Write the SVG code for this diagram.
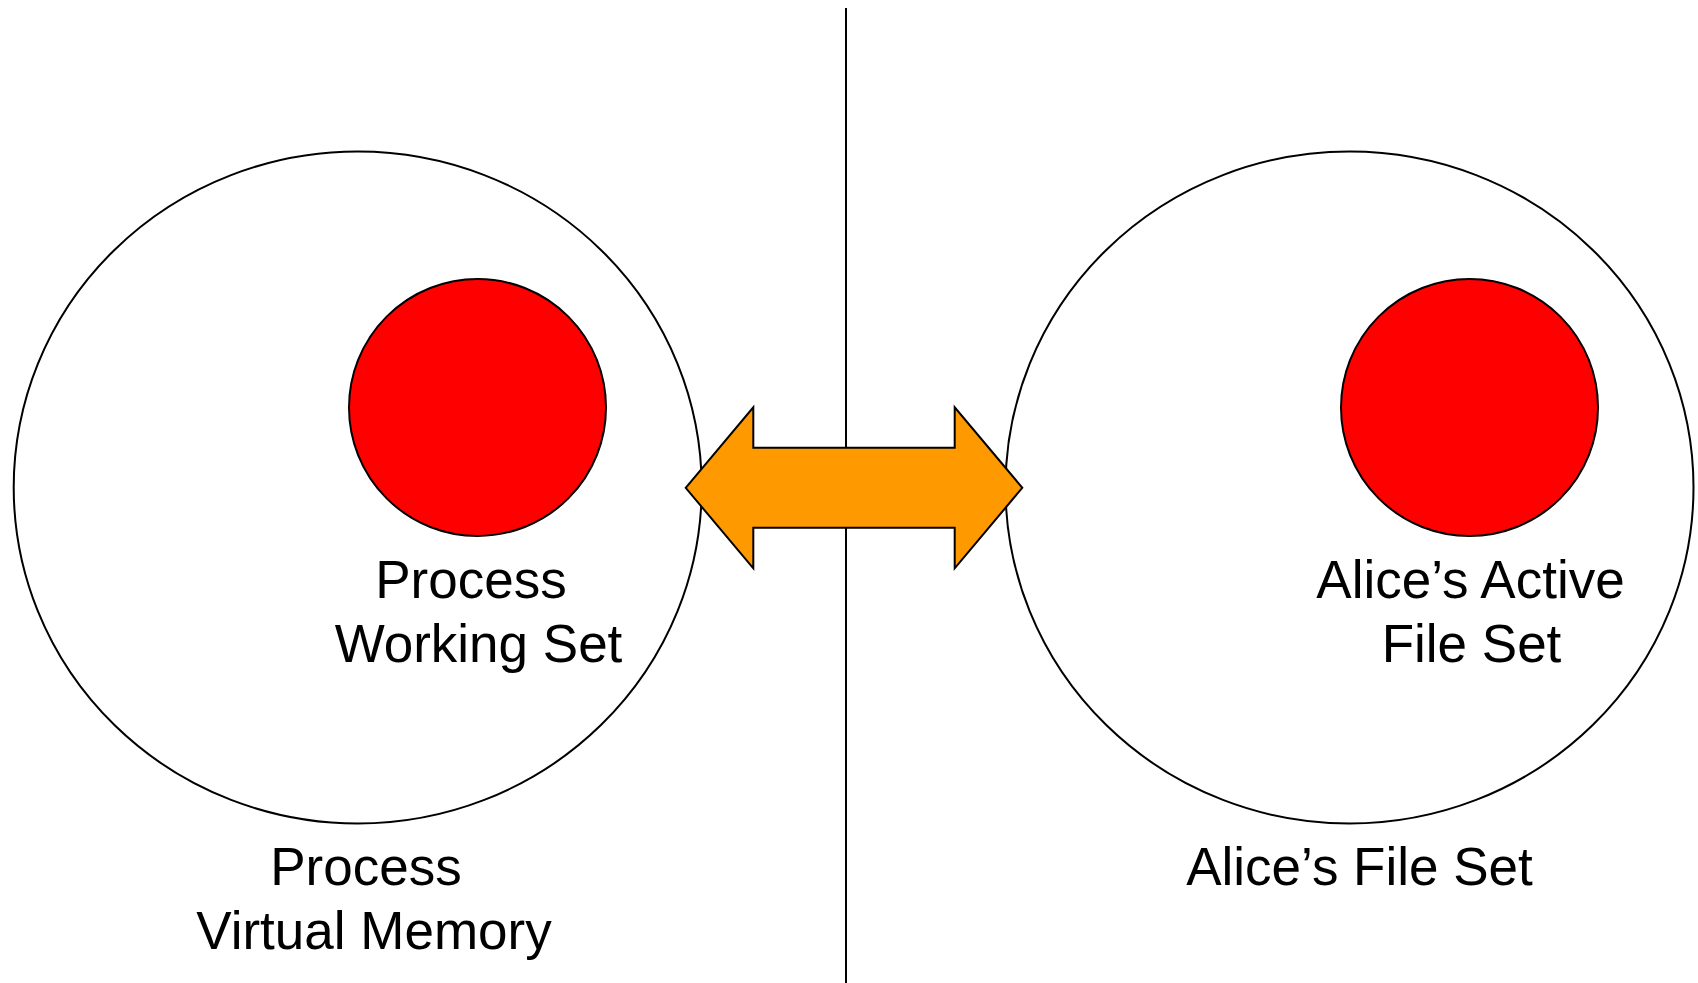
<svg xmlns="http://www.w3.org/2000/svg" width="1698" height="983" viewBox="0 0 1698 983">
  <style>
    .set { fill: #ffffff; stroke: #000000; stroke-width: 2; }
    .core { fill: #ff0000; stroke: #000000; stroke-width: 2; }
    .label { font-family: "Liberation Sans", Arial, sans-serif; font-size: 53px; fill: #000000; text-anchor: middle; }
    .divider { stroke: #000000; stroke-width: 2; }
    .swap { fill: #ff9900; stroke: #000000; stroke-width: 2; stroke-linejoin: miter; }
  </style>
  <rect width="1698" height="983" fill="#ffffff"/>

  <!-- divider between the two halves -->
  <line class="divider" x1="846" y1="8" x2="846" y2="983"/>

  <!-- left half: virtual memory and working set -->
  <g id="process-virtual-memory">
    <ellipse class="set" cx="357.7" cy="487.5" rx="344" ry="336"/>
    <text class="label" x="366" y="885">Process</text>
    <text class="label" x="374" y="949">Virtual Memory</text>
  </g>
  <g id="process-working-set">
    <circle class="core" cx="477.5" cy="407.5" r="128.5"/>
    <text class="label" x="471" y="597.5">Process</text>
    <text class="label" x="478.5" y="661.5">Working Set</text>
  </g>

  <!-- right half: file set and active file set -->
  <g id="alice-file-set">
    <ellipse class="set" cx="1349.5" cy="487.5" rx="344" ry="336"/>
    <text class="label" x="1359.5" y="885">Alice’s File Set</text>
  </g>
  <g id="alice-active-file-set">
    <circle class="core" cx="1469.5" cy="407.5" r="128.5"/>
    <text class="label" x="1470.5" y="597.5">Alice’s Active</text>
    <text class="label" x="1471.5" y="661.5">File Set</text>
  </g>

  <!-- two-way block arrow linking the halves -->
  <g id="connectors">
    <polygon class="swap" points="685.7,487.8 753.3,407.3 753.3,447.7 954.7,447.7 954.7,407.3 1022.3,487.8 954.7,568.3 954.7,527.7 753.3,527.7 753.3,568.3"/>
  </g>
</svg>
